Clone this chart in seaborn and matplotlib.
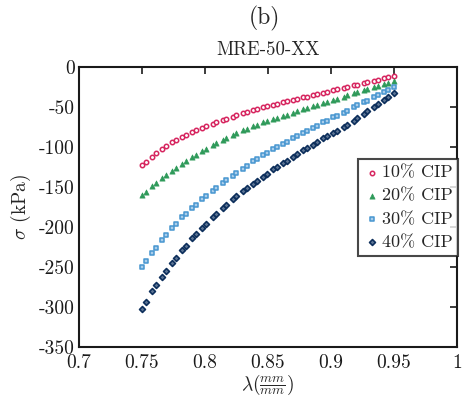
import matplotlib
matplotlib.use("Agg")
import matplotlib.pyplot as plt
import numpy as np
import pandas as pd
import seaborn as sns

# Stretch ratio (mm/mm)
stretch = [0.750, 0.753, 0.758, 0.761, 0.766, 0.769, 0.774, 0.777, 0.782, 0.785,
           0.790, 0.793, 0.798, 0.801, 0.806, 0.809, 0.814, 0.817, 0.822, 0.825,
           0.830, 0.833, 0.838, 0.841, 0.846, 0.849, 0.854, 0.857, 0.862, 0.865,
           0.870, 0.873, 0.878, 0.881, 0.886, 0.889, 0.894, 0.897, 0.902, 0.905,
           0.910, 0.913, 0.918, 0.921, 0.926, 0.929, 0.934, 0.937, 0.942, 0.945,
           0.950]

# Compressive stress (kPa) for each CIP volume fraction
cip10 = [-123, -119, -112, -108, -102, -99, -94, -91.5, -87, -85,
         -81, -79, -76, -74, -71, -69, -66, -64.5, -62, -60.5,
         -58, -56.5, -54, -52.5, -50, -49, -47, -46, -44, -43,
         -41, -40, -38, -37, -35, -34, -32, -31, -29, -28,
         -26, -25, -23, -22, -20, -19, -17, -16, -14, -13,
         -11]
cip20 = [-160, -156, -149, -145, -139, -135.5, -130, -126.5, -121, -118,
         -113, -110, -105, -102.5, -98, -95.5, -91, -89, -85, -83,
         -79, -77, -74, -72, -69, -67.5, -65, -63.5, -61, -59.5,
         -57, -55.5, -53, -51.5, -49, -47.5, -45, -43.5, -41, -39.5,
         -37, -35.5, -33, -31.5, -29, -27.5, -25, -23.5, -21, -19.5,
         -17]
cip30 = [-250, -243, -232, -226, -216, -210.5, -201, -196, -188, -183.5,
         -176, -172, -165, -161, -155, -151, -145, -141.5, -136, -132.5,
         -127, -123.5, -118, -115, -110, -107.5, -103, -100.5, -96, -93.5,
         -89, -86.5, -82, -80, -76, -73.5, -69, -67, -63, -61,
         -57, -54.5, -50, -48, -44, -42, -38, -35.5, -31, -29,
         -25]
cip40 = [-302, -294, -280, -273, -262, -255.5, -245, -239, -229, -223.5,
         -214, -209, -201, -196, -188, -183.5, -176, -172, -165, -161,
         -155, -151.5, -146, -142.5, -137, -133.5, -128, -125, -120, -117,
         -112, -109, -104, -101.5, -97, -94, -89, -86.5, -82, -79.5,
         -75, -72, -67, -64, -59, -55.5, -50, -46.5, -41, -37.5,
         -32]

labels = ["10% CIP", "20% CIP", "30% CIP", "40% CIP"]
x_ticks = [0.7, 0.75, 0.8, 0.85, 0.9, 0.95, 1.0]
x_ticklabels = ["0.7", "0.75", "0.8", "0.85", "0.9", "0.95", "1"]
y_ticks = [0, -50, -100, -150, -200, -250, -300, -350]
y_ticklabels = ["0", "-50", "-100", "-150", "-200", "-250", "-300", "-350"]

df = pd.DataFrame({
    "stretch": stretch * 4,
    "stress": cip10 + cip20 + cip30 + cip40,
    "series": np.repeat(labels, len(stretch)),
})

sns.set_theme(style="white")
plt.rcParams["font.family"] = "serif"
plt.rcParams["font.serif"] = ["cmr10", "DejaVu Serif"]
plt.rcParams["mathtext.fontset"] = "cm"
plt.rcParams["axes.unicode_minus"] = False
plt.rcParams["axes.formatter.use_mathtext"] = True

styles = {
    "10% CIP": dict(marker="o", edgecolor="#d6245e", facecolor="white", s=10, linewidth=1.1),
    "20% CIP": dict(marker="^", edgecolor="#2f9a5a", facecolor="#2f9a5a", s=14, linewidth=0.5),
    "30% CIP": dict(marker="s", edgecolor="#4796d0", facecolor="#a9cdea", s=10, linewidth=1.1),
    "40% CIP": dict(marker="D", edgecolor="#0d2f5c", facecolor="#5d7595", s=9, linewidth=1.2),
}

fig = plt.figure(figsize=(4.62, 4.04), dpi=100)
ax = fig.add_axes([0.171, 0.141, 0.818, 0.693])

for lab in labels:
    sub = df[df["series"] == lab]
    sns.scatterplot(data=sub, x="stretch", y="stress", ax=ax, label=lab,
                    **styles[lab])

ax.set_xlim(0.7, 1.0)
ax.set_ylim(-350, 0)
ax.set_xticks(x_ticks)
ax.set_xticklabels(x_ticklabels)
ax.set_yticks(y_ticks)
ax.set_yticklabels(y_ticklabels)
ax.tick_params(direction="in", length=5, width=1.2, top=True, right=True,
               labelsize=14, colors="#1a1a1a")
ax.tick_params(axis="x", pad=5)
ax.tick_params(axis="y", pad=3)
for sp in ax.spines.values():
    sp.set_linewidth(1.5)
    sp.set_color("#1a1a1a")

ax.set_xlabel(r"$\lambda(\frac{mm}{mm})$", fontsize=14, labelpad=1)
ax.set_ylabel(r"$\sigma$ (kPa)", fontsize=14, labelpad=4)
ax.set_title("MRE-50-XX", fontsize=13.5, pad=9)
fig.text(0.573, 0.955, "(b)", ha="center", va="center", fontsize=17)

leg = ax.legend(loc="upper right", bbox_to_anchor=(1.003, 0.67), frameon=True,
                fancybox=False, edgecolor="#1a1a1a", fontsize=13,
                handletextpad=0.05, handlelength=1.0, borderpad=0.3,
                labelspacing=0.42, borderaxespad=0.0, markerscale=1.0)
leg.get_frame().set_linewidth(1.5)

fig.savefig("out.png", dpi=100, facecolor="white")
